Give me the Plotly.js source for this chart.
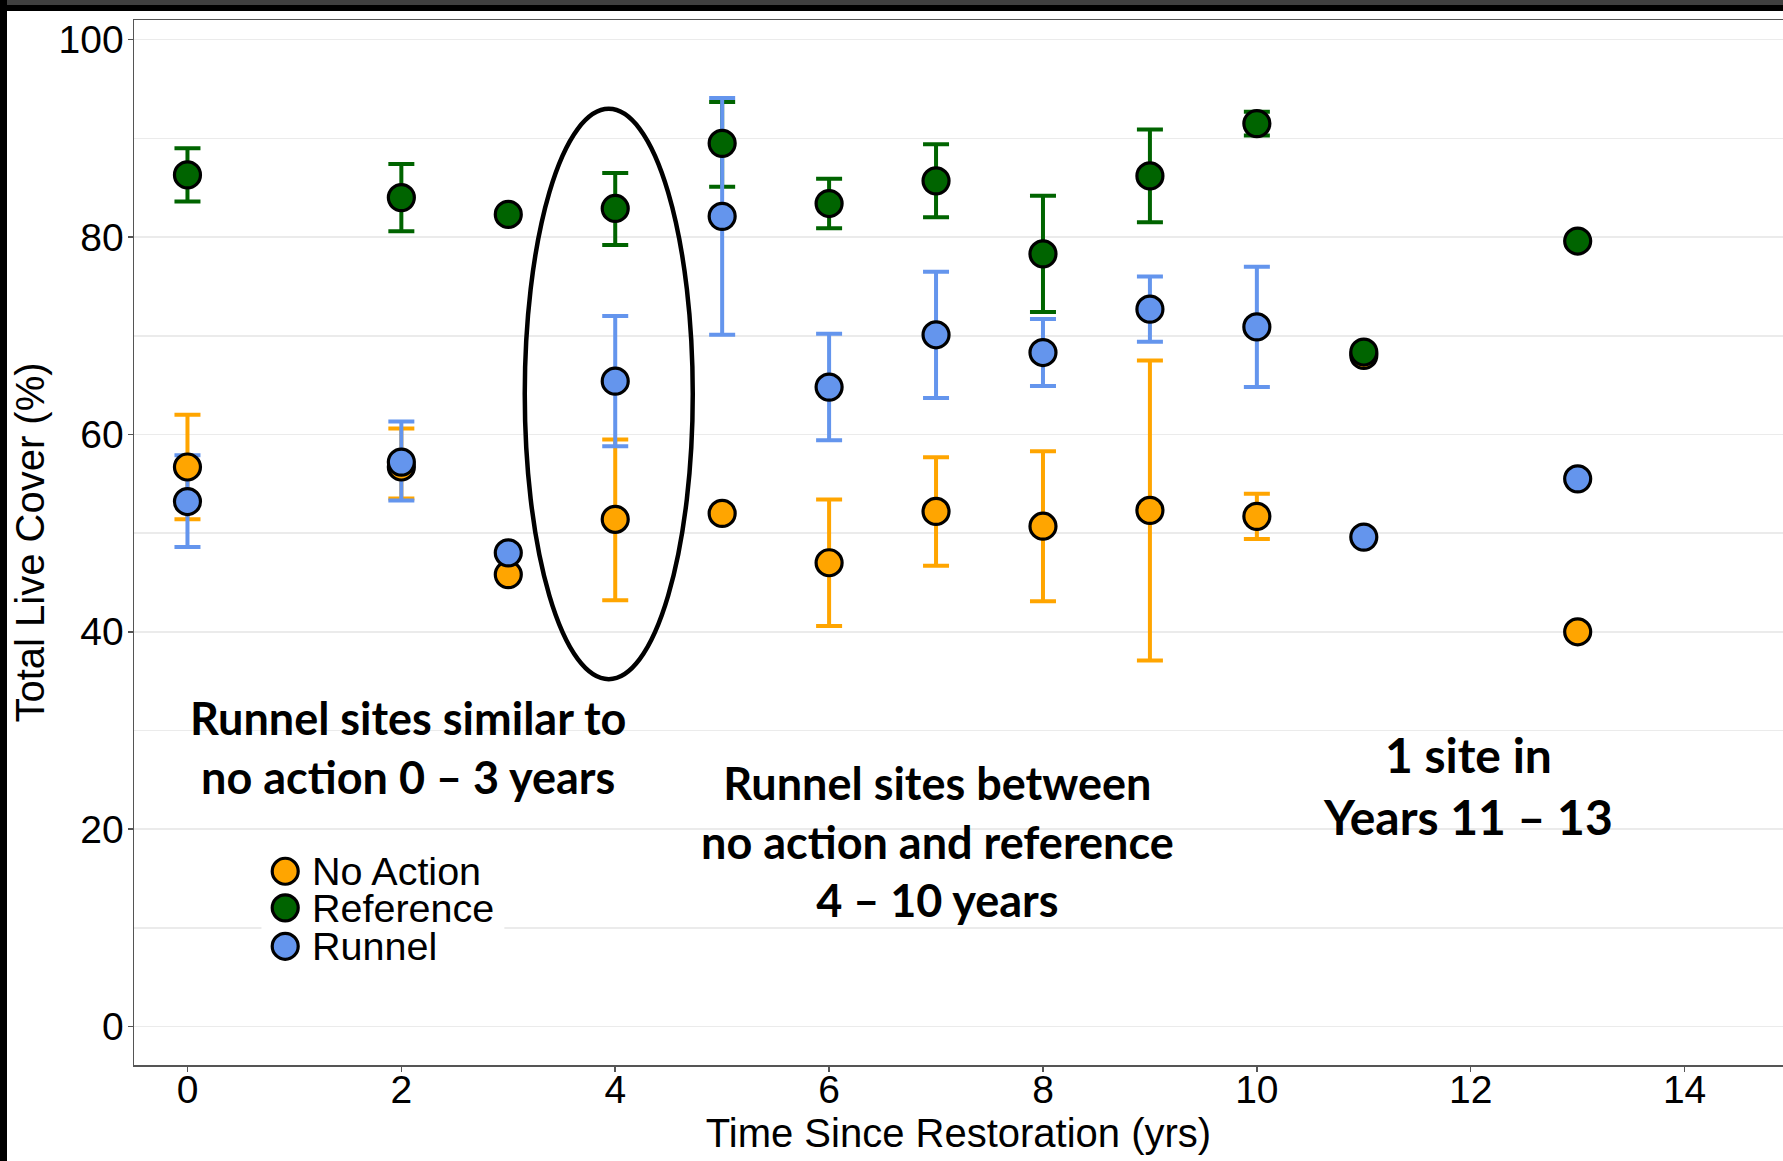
<!DOCTYPE html>
<html>
<head>
<meta charset="utf-8">
<script src="https://cdn.plot.ly/plotly-3.0.1.min.js"></script>
<style>
  html, body { margin: 0; padding: 0; background: #fff; }
  #wrap { position: relative; width: 1783px; height: 1161px; overflow: hidden; }
  #chart { position: absolute; left: 0; top: 0; width: 1783px; height: 1161px; }
  .frame { position: absolute; pointer-events: none; }
</style>
</head>
<body>
<div id="wrap">
  <div id="chart"></div>
  <div class="frame" style="left:0;top:0;width:1783px;height:5px;background:#404040;"></div>
  <div class="frame" style="left:0;top:5px;width:1783px;height:6px;background:#000;"></div>
  <div class="frame" style="left:0;top:0;width:7px;height:1161px;background:#000;"></div>
</div>
<script>
// ---- data ----
const years = [0, 2, 3, 4, 5, 6, 7, 8, 9, 10, 11, 13];

const noActionMean  = [56.7, 56.7, 45.8, 51.4, 52.0, 47.0, 52.2, 50.7, 52.3, 51.7, 68.0, 40.0];
const noActionUpper = [62.0, 60.6, null, 59.5, null, 53.4, 57.7, 58.3, 67.5, 54.0, null, null];
const noActionLower = [51.4, 53.5, null, 43.2, null, 40.6, 46.7, 43.1, 37.1, 49.4, null, null];

const referenceMean  = [86.3, 84.0, 82.3, 82.9, 89.5, 83.4, 85.7, 78.3, 86.2, 91.5, 68.35, 79.6];
const referenceUpper = [89.0, 87.4, null, 86.5, 93.7, 85.9, 89.4, 84.2, 90.9, 92.7, null, null];
const referenceLower = [83.6, 80.6, null, 79.2, 85.1, 80.9, 82.0, 72.4, 81.5, 90.3, null, null];

const runnelMean  = [53.2, 57.2, 48.0, 65.4, 82.1, 64.8, 70.1, 68.3, 72.7, 70.9, 49.6, 55.5];
const runnelUpper = [57.9, 61.3, null, 72.0, 94.1, 70.2, 76.5, 71.7, 76.0, 77.0, null, null];
const runnelLower = [48.6, 53.3, null, 58.8, 70.1, 59.4, 63.7, 64.9, 69.4, 64.8, null, null];

const seriesNames = ["No Action", "Reference", "Runnel"];
const seriesColors = ["#FFA500", "#006400", "#6495ED"];

const yTickVals = [0, 20, 40, 60, 80, 100];
const xTickVals = [0, 2, 4, 6, 8, 10, 12, 14];

const annotationTexts = [
  "Runnel sites similar to<br>no action 0 – 3 years",
  "Runnel sites between<br>no action and reference<br>4 – 10 years",
  "1 site in<br>Years 11 – 13"
];

// ---- build traces ----
const series = [
  {mean: noActionMean, up: noActionUpper, lo: noActionLower},
  {mean: referenceMean, up: referenceUpper, lo: referenceLower},
  {mean: runnelMean, up: runnelUpper, lo: runnelLower}
];

const traces = [];
// error bars first (all below points, as in ggplot layer order)
series.forEach((s, k) => {
  traces.push({
    type: "scatter", mode: "markers", x: years, y: s.mean,
    marker: {size: 0, color: "rgba(0,0,0,0)"},
    error_y: {
      type: "data", symmetric: false,
      array: s.up.map((u, i) => u == null ? NaN : u - s.mean[i]),
      arrayminus: s.lo.map((l, i) => l == null ? NaN : s.mean[i] - l),
      color: seriesColors[k], thickness: 4, width: 13
    },
    showlegend: false, hoverinfo: "skip"
  });
});
series.forEach((s, k) => {
  traces.push({
    type: "scatter", mode: "markers", name: seriesNames[k], x: years, y: s.mean,
    marker: {size: 26, color: seriesColors[k], line: {color: "#000", width: 3.2}},
    showlegend: false
  });
});

// ---- manual legend (ggplot-like tight legend) ----
const legendRowsY = [0.1854, 0.1504, 0.1136];
const shapes = [
  {type: "circle", xref: "x", yref: "y", x0: 3.154, x1: 4.725, y0: 35.2, y1: 93.0,
   line: {color: "#000", width: 4.5}, layer: "above"},
  {type: "rect", xref: "paper", yref: "paper", x0: 0.0773, x1: 0.2246, y0: 0.094, y1: 0.209,
   fillcolor: "#fff", line: {width: 0}, layer: "above"}
];
seriesNames.forEach((n, k) => {
  shapes.push({
    type: "circle", xref: "paper", yref: "paper",
    xsizemode: "pixel", ysizemode: "pixel",
    xanchor: 0.0917, yanchor: legendRowsY[k],
    x0: -13, x1: 13, y0: -13, y1: 13,
    fillcolor: seriesColors[k], line: {color: "#000", width: 3.2}, layer: "above"
  });
});

const annFont = {family: "Lato, 'Noto Sans', sans-serif", size: 45, color: "#000", weight: 700};
const annotations = [
  {x: 2.06, y: 28.3, xref: "x", yref: "y", text: "<b>" + annotationTexts[0] + "</b>", showarrow: false, align: "center", font: annFont},
  {x: 7.01, y: 18.7, xref: "x", yref: "y", text: "<b>" + annotationTexts[1] + "</b>", showarrow: false, align: "center", font: annFont},
  {x: 11.97, y: 24.4, xref: "x", yref: "y", text: "<b>" + annotationTexts[2] + "</b>", showarrow: false, align: "center",
   font: Object.assign({}, annFont, {size: 48})}
];
seriesNames.forEach((n, k) => {
  annotations.push({
    xref: "paper", yref: "paper", x: 0.1065, y: legendRowsY[k], xanchor: "left", yanchor: "middle",
    text: n, showarrow: false, font: {family: "'Liberation Sans', Arial, sans-serif", size: 39.5, color: "#000"}
  });
});

const axisFont = {family: "'Liberation Sans', Arial, sans-serif", size: 39, color: "#000"};
const titleFont = {family: "'Liberation Sans', Arial, sans-serif", size: 40, color: "#000"};

const layout = {
  width: 1783, height: 1161,
  margin: {l: 134, r: 0, t: 20, b: 96, pad: 0},
  paper_bgcolor: "#fff", plot_bgcolor: "#fff",
  showlegend: false,
  xaxis: {
    range: [-0.5, 14.92], tickvals: xTickVals, ticktext: xTickVals.map(String),
    showgrid: false, zeroline: false,
    showline: true, linecolor: "#555", linewidth: 1.5, mirror: true,
    ticks: "outside", ticklen: 5, tickwidth: 1.5, tickcolor: "#555",
    tickfont: axisFont, ticklabelstandoff: -15,
    title: {text: "Time Since Restoration (yrs)", font: titleFont, standoff: 0},
    automargin: false
  },
  yaxis: {
    range: [-3.9, 102.0], tickvals: yTickVals, ticktext: yTickVals.map(String),
    showgrid: true, gridcolor: "#ebebeb", gridwidth: 1.5,
    minor: {dtick: 10, tick0: 0, showgrid: true, gridcolor: "#ebebeb", gridwidth: 1.5, ticks: ""},
    zeroline: false,
    showline: true, linecolor: "#555", linewidth: 1.5, mirror: false,
    ticks: "outside", ticklen: 5, tickwidth: 1.5, tickcolor: "#555",
    tickfont: axisFont, ticklabelstandoff: -4,
    title: {text: "Total Live Cover (%)", font: titleFont, standoff: -2},
    automargin: false
  },
  shapes: shapes,
  annotations: annotations
};

Plotly.newPlot("chart", traces, layout, {displayModeBar: false, staticPlot: true});
</script>
</body>
</html>
